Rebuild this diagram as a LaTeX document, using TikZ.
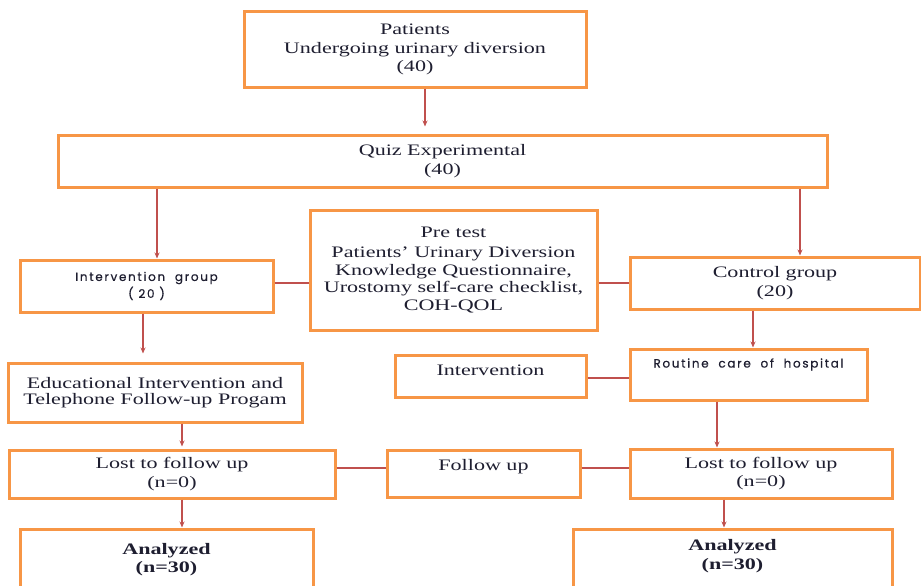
\documentclass[tikz,border=0pt]{standalone}
\usepackage{fontspec}
\setmainfont[FakeStretch=1.38]{Liberation Serif}
\newfontfamily\gothicfont[LetterSpace=14,FakeBold=0.6]{Poppins}
\usepackage{tikz}
\usetikzlibrary{arrows.meta}
\usetikzlibrary{calc}
\definecolor{boxorange}{RGB}{247,150,70}
\definecolor{linered}{RGB}{192,80,77}
\definecolor{inkdark}{RGB}{30,30,48}
\newcommand{\lift}[2]{\raisebox{#1}[\height][\depth]{#2}}

\begin{document}
\begin{tikzpicture}
[x=1pt,y=-1pt,
  boxdecorate/.style={shape=rectangle,draw=boxorange,line width=3pt,inner sep=2pt,
    align=center,text=inkdark,font=\fontsize{16}{18.5}\selectfont},
  gothicdecorate/.style={boxdecorate,font=\gothicfont\fontsize{12}{17}\selectfont},
  linedecorate/.style={-,draw=linered,line width=1.1pt},
  arrowdecorate/.style={linedecorate,-{Stealth[length=6pt,width=5pt]}}]
\useasboundingbox (0,0) rectangle (921,586);
\clip (0,0) rectangle (921,586);
%% boxes
\node (pat) at (415,49.5) [boxdecorate,minimum width=342,minimum height=75]
  {Patients\\Undergoing urinary diversion\\(40)};
\node (quiz) at (442.5,161) [boxdecorate,minimum width=769,minimum height=52]
  {Quiz Experimental\\(40)};
\node (intgrp) at (146.5,286) [gothicdecorate,minimum width=253,minimum height=52]
  {Intervention\ \ group\\(\ 20\ )};
\node (pretest) at (453.5,270) [boxdecorate,minimum width=287,minimum height=120,
  font=\fontsize{16}{17.5}\selectfont]
  {Pre test\\[3pt]Patients' Urinary Diversion\\Knowledge Questionnaire,\\
   Urostomy self-care checklist,\\COH-QOL};
\node (ctrl) at (775,283) [boxdecorate,minimum width=290,minimum height=52]
  {Control group\\(20)};
\node (edu) at (155,392.5) [boxdecorate,minimum width=294,minimum height=59]
  {Educational Intervention and\\[-2.5pt]Telephone Follow-up Progam};
\node (intbox) at (490.5,376) [boxdecorate,minimum width=191,minimum height=42]
  {\lift{6pt}{Intervention}};
\node (routine) at (748.5,374.5) [gothicdecorate,minimum width=237,minimum height=51]
  {\lift{10pt}{Routine\ \ care\ \ of\ \ hospital}};
\node (lostL) at (172,474) [boxdecorate,minimum width=326,minimum height=48]
  {Lost to follow up\\(n=0)};
\node (follow) at (483.5,473.5) [boxdecorate,minimum width=193,minimum height=47]
  {\lift{7pt}{Follow up}};
\node (lostR) at (761,473.5) [boxdecorate,minimum width=262,minimum height=49]
  {Lost to follow up\\(n=0)};
\node (anaL) at (166.5,559.5) [boxdecorate,minimum width=293,minimum height=61,
  font=\bfseries\fontsize{16}{18}\selectfont]
  {Analyzed\\(n=30)};
\node (anaR) at (732.5,562) [boxdecorate,minimum width=319,minimum height=66,
  font=\bfseries\fontsize{16}{19}\selectfont]
  {\lift{5.5pt}{\begin{tabular}{@{}c@{}}Analyzed\\(n=30)\end{tabular}}};
%% arrows down
\foreach \startnode/\endnode/\colx/\gap in {pat/quiz/425/7pt, quiz/intgrp/157/0pt,
  quiz/ctrl/800/0pt, intgrp/edu/143/8pt, ctrl/routine/753/0pt, edu/lostL/182/2pt,
  routine/lostR/717/0pt, lostL/anaL/182/0pt, lostR/anaR/724/0pt}
{
  \coordinate (col) at (\colx,0);
  \draw[arrowdecorate,shorten >=\gap] (\startnode.south -| col) -- (\endnode.north -| col);
}
%% plain links
\foreach \startnode/\endnode/\rowy in {intgrp/pretest/283, pretest/ctrl/283,
  intbox/routine/378, lostL/follow/468, follow/lostR/468}
{
  \coordinate (row) at (0,\rowy);
  \draw[linedecorate] (\startnode.east |- row) -- (\endnode.west |- row);
}
\end{tikzpicture}
\end{document}
